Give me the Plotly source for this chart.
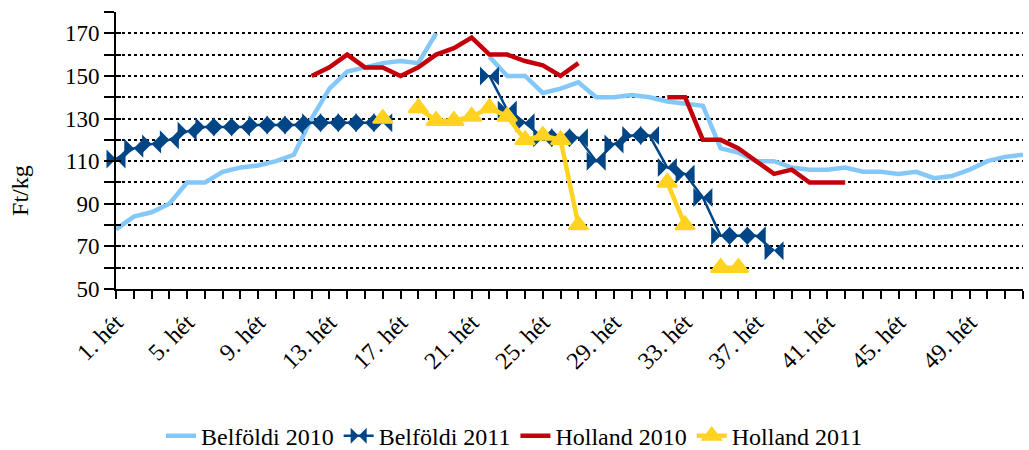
import plotly.graph_objects as go

N = None
weeks = list(range(1, 53))
tick_weeks = list(range(1, 53, 4))
tick_labels = [f"{w}. hét" for w in tick_weeks]

belfoldi_2010 = [78, 84, 86, 90, 100, 100, 105, 107, 108, 110, 113, 130, 144, 152, 154, 156,
                 157, 156, 170, N, N, 159, 150, 150, 142, 144, 147, 140, 140, 141, 140, 138,
                 137, 136, 116, 114, 110, 110, 107, 106, 106, 107, 105, 105, 104, 105, 102,
                 103, 106, 110, 112, 113]
belfoldi_2011 = [111, 116, 118, 120, 124, 126, 126, 126, 127, 127, 127, 128, 128, 128, 128, 128,
                 N, N, N, N, N, 150, 134, 128, 121, 121, 121, 110, 118, 122, 122, 107,
                 104, 93, 75, 75, 75, 68] + [N] * 14
holland_2010 = [N] * 11 + [150, 154, 160, 154, 154, 150, 154, 160, 163, 168, 160, 160, 157,
                           155, 150, 156, N, N, N, N, 140, 140, 120, 120, 116, 110, 104, 106,
                           100, 100, 100] + [N] * 10
holland_2011 = [N] * 15 + [130, N, 135, 129, 129, 131, 135, 131, 120, 122, 120, 80, N, N, N, N,
                           100, 80, N, 60, 60] + [N] * 16

FONT = "Liberation Serif, DejaVu Serif, serif"

fig = go.Figure()
fig.add_trace(go.Scatter(x=weeks, y=belfoldi_2010, name="Belföldi 2010", mode="lines",
                         line=dict(color="#83C8F8", width=4.5)))
fig.add_trace(go.Scatter(x=weeks, y=belfoldi_2011, name="Belföldi 2011", mode="lines+markers",
                         line=dict(color="#004586", width=2.5),
                         marker=dict(symbol="bowtie", size=19, color="#004586"),
                         cliponaxis=False))
fig.add_trace(go.Scatter(x=weeks, y=holland_2010, name="Holland 2010", mode="lines",
                         line=dict(color="#C4000B", width=4.5)))
fig.add_trace(go.Scatter(x=weeks, y=holland_2011, name="Holland 2011", mode="lines+markers",
                         line=dict(color="#FFD320", width=4.5),
                         marker=dict(symbol="triangle-up", size=17, color="#FFD320",
                                     line=dict(color="#FFD320", width=2)),
                         cliponaxis=False))
fig.add_trace(go.Scatter(x=[None], y=[None], yaxis="y2", showlegend=False, hoverinfo="skip"))

fig.update_layout(
    width=1029, height=450,
    margin=dict(l=116, r=6, t=12, b=161, autoexpand=False),
    paper_bgcolor="white", plot_bgcolor="white",
    font=dict(family=FONT, size=23, color="#000000"),
    xaxis=dict(range=[1, 52], tickvals=tick_weeks, ticktext=tick_labels, tickangle=-45,
               ticks="outside", ticklen=8, tickwidth=1.5, tickcolor="black",
               showline=True, linecolor="black", linewidth=2, showgrid=False, zeroline=False,
               minor=dict(tick0=1, dtick=1, ticks="outside", ticklen=8, tickwidth=1.5,
                          tickcolor="black"),
               tickfont=dict(family=FONT, size=24), automargin=False),
    yaxis=dict(range=[50, 180], tickvals=list(range(50, 180, 20)),
               ticks="outside", ticklen=10, tickwidth=1.5, tickcolor="black",
               showline=True, linecolor="black", linewidth=2, zeroline=False,
               showgrid=True, gridcolor="black", gridwidth=1.5, griddash="dot",
               minor=dict(tick0=50, dtick=10, ticks="outside", ticklen=10, tickwidth=1.5,
                          tickcolor="black", showgrid=True, gridcolor="black",
                          gridwidth=1.5, griddash="dot"),
               tickfont=dict(family=FONT, size=23), automargin=False),
    yaxis2=dict(range=[50, 180], overlaying="y", side="left", anchor="x",
                tickvals=list(range(50, 190, 10)), ticks="inside", ticklen=5, tickwidth=1.5,
                tickcolor="black", showticklabels=False, showgrid=False, showline=False,
                zeroline=False, automargin=False),
    legend=dict(orientation="h", xref="container", x=0.5, xanchor="center",
                yref="container", y=0.031, yanchor="middle",
                font=dict(family=FONT, size=24), itemwidth=30, tracegroupgap=0,
                bgcolor="rgba(0,0,0,0)"),
    annotations=[dict(text="Ft/kg", xref="paper", yref="paper", x=-0.106, y=0.357,
                      xanchor="center", yanchor="middle", textangle=-90, showarrow=False,
                      font=dict(family=FONT, size=24))],
    showlegend=True,
)

fig.write_html("out.html", config={"displayModeBar": False},
               post_script="document.body.style.margin='0px';document.body.style.overflow='hidden';")
